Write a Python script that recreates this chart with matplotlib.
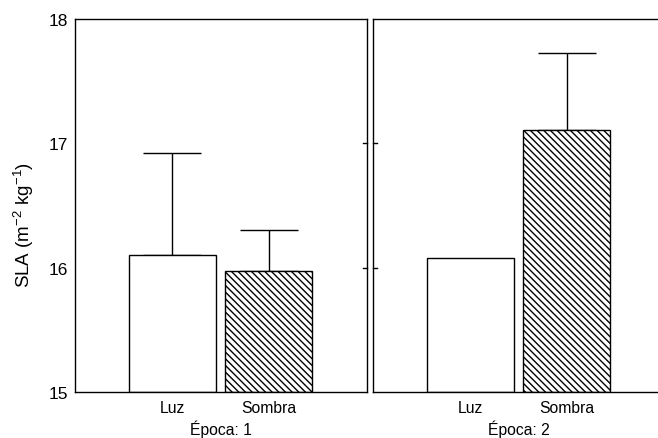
import matplotlib
matplotlib.use('Agg')
import matplotlib.pyplot as plt
import matplotlib.ticker as ticker

plt.rcParams['font.family'] = ['Liberation Sans', 'DejaVu Sans']
plt.rcParams['hatch.linewidth'] = 1.0

grupos = ['Luz', 'Sombra']
epocas = ['Época: 1', 'Época: 2']
medias = [[16.10, 15.97], [16.08, 17.11]]
erros = [[0.82, 0.33], [0.0, 0.62]]
hatches = ['', '\\\\\\\\\\']

W, H = 658, 439
fig = plt.figure(figsize=(W / 100, H / 100), dpi=100)
bottom = 1 - 393 / H
height = (393 - 20) / H
ax1 = fig.add_axes([75 / W, bottom, 292 / W, height])
ax2 = fig.add_axes([373 / W, bottom, 292 / W, height])

for i, (ax, ep) in enumerate(zip([ax1, ax2], epocas)):
    x = list(range(len(grupos)))
    for j in x:
        ax.bar(j, medias[i][j] - 15, bottom=15, width=0.9, color='white',
               edgecolor='black', linewidth=1.0, hatch=hatches[j], zorder=2)
        if erros[i][j] > 0:
            ax.errorbar(j, medias[i][j], yerr=[[0], [erros[i][j]]], fmt='none',
                        ecolor='black', elinewidth=1.0, capsize=21, capthick=1.0, zorder=1)
    ax.set_xlim(-1.01, 2.02)
    ax.set_ylim(15, 18)
    ax.set_xticks(x)
    ax.set_xticklabels(grupos, fontsize=11.3)
    ax.tick_params(axis='x', length=0, pad=6)
    ax.set_xlabel(ep, fontsize=11.3, labelpad=3)
    ax.yaxis.set_major_locator(ticker.MultipleLocator(1))
    for s in ax.spines.values():
        s.set_linewidth(1.0)

ax1.tick_params(axis='y', which='both', length=0, labelsize=12.5, pad=5)
ax1.set_ylabel(r'SLA (m$^{\mathregular{-2}}$ kg$^{\mathregular{-1}}$)', fontsize=13.5)
ax1.yaxis.set_label_coords(-0.134, 0.45)
ax2.tick_params(axis='y', labelleft=False, length=0)

# short inward ticks on both sides of the gap
for v in [16, 17]:
    ax1.plot([1.0, 0.985], [v, v], transform=ax1.get_yaxis_transform(), color='black', lw=1.0, clip_on=False)
    ax2.plot([0.0, 0.015], [v, v], transform=ax2.get_yaxis_transform(), color='black', lw=1.0, clip_on=False)

fig.savefig('out.png', dpi=100)
